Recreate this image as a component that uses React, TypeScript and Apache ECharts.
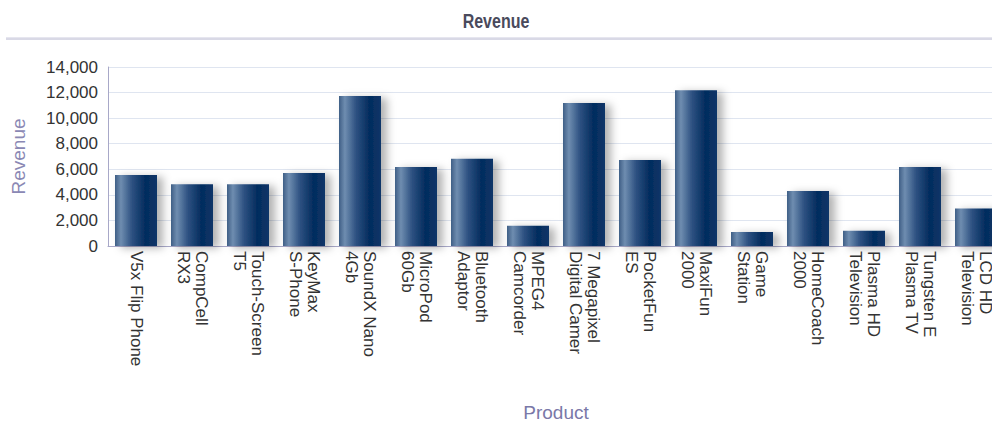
import React, { useEffect, useRef } from "react";
import * as echarts from "echarts";

const categories: string[] = [
  "V5x Flip Phone",
  "CompCell\nRX3",
  "Touch-Screen\nT5",
  "KeyMax\nS-Phone",
  "SoundX Nano\n4Gb",
  "MicroPod\n60Gb",
  "Bluetooth\nAdaptor",
  "MPEG4\nCamcorder",
  "7 Megapixel\nDigital Camer",
  "PocketFun\nES",
  "MaxiFun\n2000",
  "Game\nStation",
  "HomeCoach\n2000",
  "Plasma HD\nTelevision",
  "Tungsten E\nPlasma TV",
  "LCD HD\nTelevision",
];

const revenue: number[] = [
  5560, 4830, 4830, 5710, 11740, 6180, 6830, 1590, 11190, 6730, 12180, 1090,
  4310, 1200, 6180, 2940,
];

const yTicks = { min: 0, max: 14000, interval: 2000 };

const titleText = "Revenue";
const yAxisName = "Revenue";
const xAxisName = "Product";

export default function App() {
  const ref = useRef<HTMLDivElement>(null);
  useEffect(() => {
    if (!ref.current) return;
    const chart = echarts.init(ref.current, undefined, { renderer: "svg" });
    const barGradient = new echarts.graphic.LinearGradient(0, 0, 1, 0, [
      { offset: 0, color: "#3f5f86" },
      { offset: 0.14, color: "#6f8db0" },
      { offset: 0.4, color: "#2e5282" },
      { offset: 0.72, color: "#042c5e" },
      { offset: 1, color: "#0b3568" },
    ]);
    chart.setOption({
      animation: false,
      backgroundColor: "#ffffff",
      textStyle: { fontFamily: "Liberation Sans, Arial, sans-serif" },
      graphic: [
        {
          type: "rect",
          shape: { x: 6, y: 37, width: 1020, height: 3 },
          style: { fill: "#d9d9e6" },
          silent: true,
        },
        {
          type: "rect",
          shape: { x: 6, y: 37, width: 1020, height: 1 },
          style: { fill: "#e6e6ef" },
          silent: true,
        },
        {
          type: "text",
          x: 496,
          y: 21,
          scaleY: 1.3,
          style: {
            text: titleText,
            fill: "#4a4a5c",
            font: "bold 16px 'Liberation Sans', Arial, sans-serif",
            textAlign: "center",
            textVerticalAlign: "middle",
          },
        },
      ],
      grid: { left: 108, right: 16, top: 67, bottom: 176, containLabel: false },
      xAxis: {
        type: "category",
        data: categories,
        name: xAxisName,
        nameLocation: "middle",
        nameGap: 157,
        nameTextStyle: { color: "#7a78a8", fontSize: 19 },
        axisLine: { show: true, lineStyle: { color: "#a8a8c8", width: 1 } },
        axisTick: { show: false },
        axisLabel: {
          rotate: -90,
          interval: 0,
          color: "#333333",
          fontSize: 17,
          lineHeight: 18,
          margin: 5,
        },
      },
      yAxis: {
        type: "value",
        min: yTicks.min,
        max: yTicks.max,
        interval: yTicks.interval,
        name: yAxisName,
        nameLocation: "middle",
        nameRotate: 90,
        nameGap: 80,
        nameTextStyle: { color: "#8a88b4", fontSize: 19 },
        axisLine: { show: true, lineStyle: { color: "#a8a8c8", width: 1 } },
        axisTick: { show: false },
        axisLabel: {
          color: "#333333",
          fontSize: 17,
          margin: 10,
          formatter: (v: number) => v.toLocaleString("en-US"),
        },
        splitLine: { show: true, lineStyle: { color: "#dfe5f0", width: 1 } },
      },
      series: [
        {
          type: "bar",
          data: revenue,
          barCategoryGap: "25%",
          itemStyle: {
            color: barGradient,
            shadowColor: "rgba(0,0,0,0.3)",
            shadowBlur: 9,
            shadowOffsetX: 6,
            shadowOffsetY: 2,
          },
        },
      ],
    });
    return () => chart.dispose();
  }, []);
  return (
    <div
      style={{
        position: "fixed",
        left: 0,
        top: 0,
        width: 992,
        height: 423,
        overflow: "hidden",
        background: "#fff",
      }}
    >
      <div ref={ref} style={{ width: 1020, height: 423 }} />
    </div>
  );
}
